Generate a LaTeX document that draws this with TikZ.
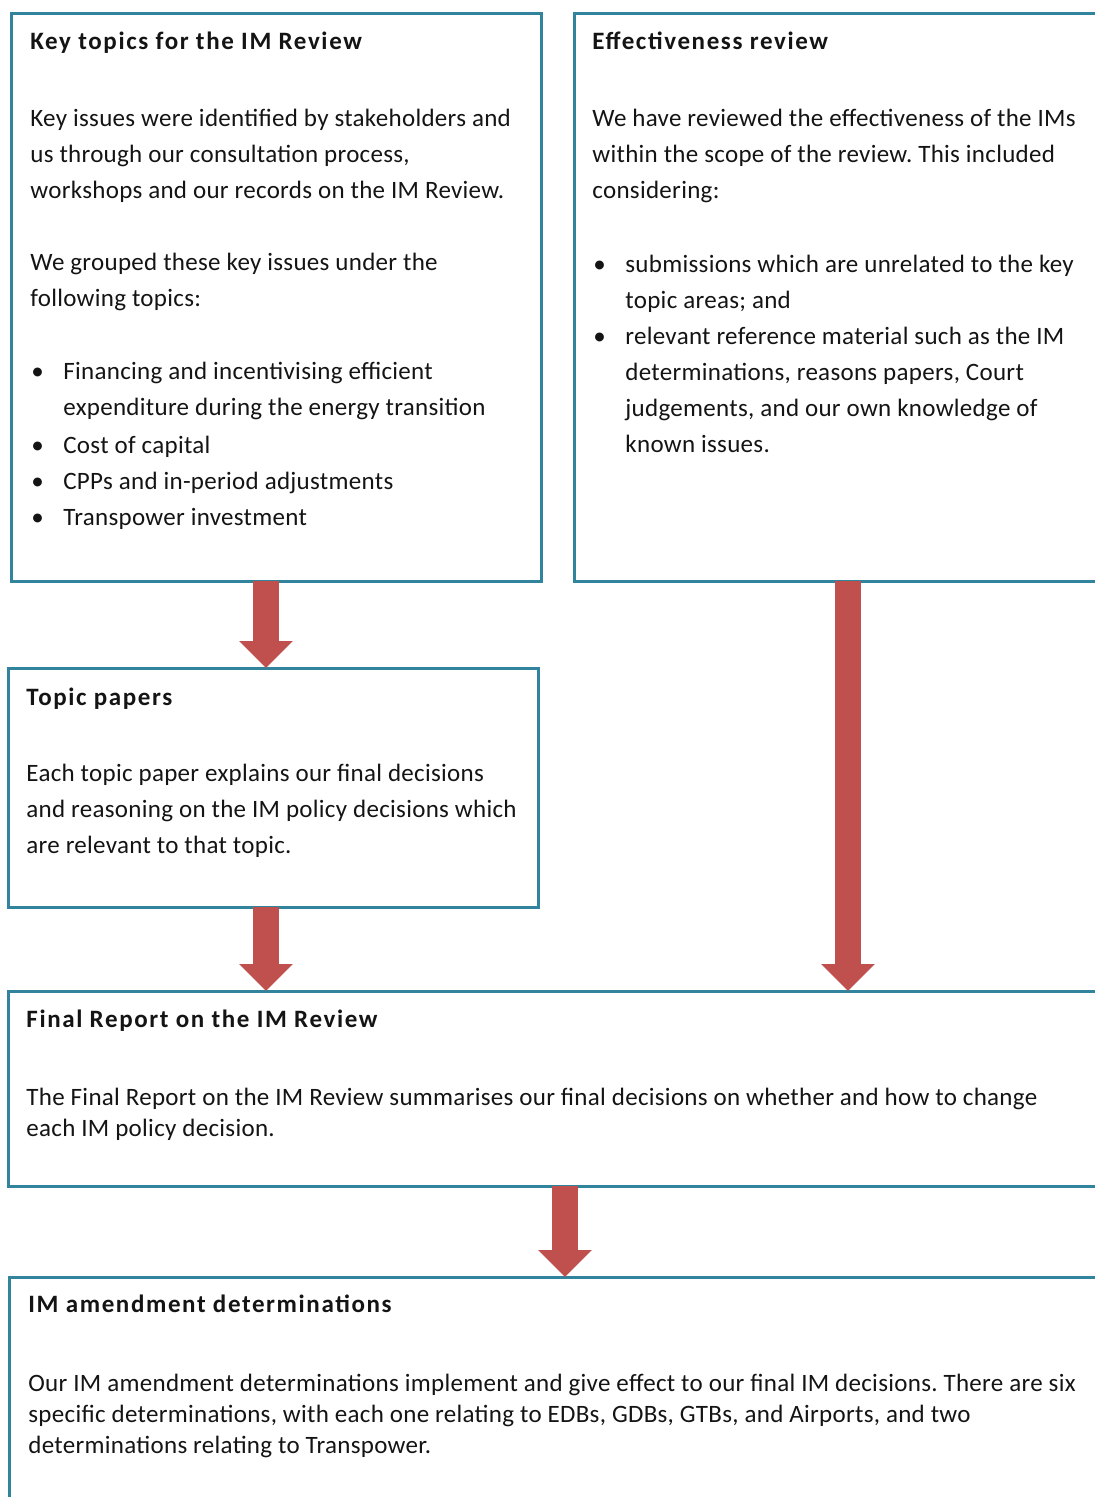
\documentclass[tikz,border=0pt]{standalone}
\usepackage{fontspec}
\setmainfont{Carlito}[LetterSpace=1.2, BoldFeatures={LetterSpace=6.5}]
\usepackage{tikz}
\usetikzlibrary{arrows.meta, positioning, calc}
\definecolor{borderteal}{RGB}{49,132,155}
\definecolor{arrowred}{RGB}{192,80,77}
\definecolor{bodytext}{RGB}{20,20,20}
\frenchspacing

\newcommand{\bulitem}{\hspace*{0.5pt}\makebox[16pt][l]{\textbullet}}
\newcommand{\bulcont}{\hspace*{16.5pt}}

\begin{document}
\begin{tikzpicture}[
    x=0.5pt, y=-0.5pt,
    panel/.style={rectangle, draw=borderteal, line width=1.5pt, outer sep=0pt,
        anchor=north west, fill=white},
    paneltext/.style={anchor=north west, align=left, inner sep=0pt, text=bodytext,
        font=\fontsize{12.5}{18}\selectfont},
    widetext/.style={paneltext, font=\fontsize{12.5}{15.5}\selectfont},
    fatarrow/.style={draw=arrowred, line width=13pt,
        -{Triangle[width=26pt, length=13.5pt]}}
]
\useasboundingbox (0,0) rectangle (1095,1497);
\clip (0,0) rectangle (1095,1497);

% === TOP ROW ===
\node[panel, minimum width=265pt, minimum height=283.5pt] (keytopics) at (11,14) {};
\node[panel, minimum width=274pt, minimum height=283.5pt] (effect) at (574,14) {};

% === TOPIC PAPERS ===
\node[panel, minimum width=265pt, minimum height=119.5pt] (topics) at (8,668) {};

% === FINAL REPORT ===
\node[panel, minimum width=557pt, minimum height=97.5pt] (final) at (8,991) {};

% === AMENDMENTS ===
\node[panel, minimum width=556pt, minimum height=122pt] (amend) at (9,1277) {};

% Texts
\node[paneltext] (keytopicstxt) at (30,32) {
    \textbf{Key topics for the IM Review}\\[20.5pt]
    Key issues were identified by stakeholders and\\
    us through our consultation process,\\
    workshops and our records on the IM Review.\\[18pt]
    We grouped these key issues under the\\
    following topics:\\[18.5pt]
    \bulitem Financing and incentivising efficient\\
    \bulcont expenditure during the energy transition\\[1pt]
    \bulitem Cost of capital\\
    \bulitem CPPs and in-period adjustments\\
    \bulitem Transpower investment
};

\node[paneltext] (effecttxt) at (592,32) {
    \textbf{Effectiveness review}\\[20.5pt]
    We have reviewed the effectiveness of the IMs\\
    within the scope of the review. This included\\
    considering:\\[19pt]
    \bulitem submissions which are unrelated to the key\\
    \bulcont topic areas; and\\
    \bulitem relevant reference material such as the IM\\
    \bulcont determinations, reasons papers, Court\\
    \bulcont judgements, and our own knowledge of\\
    \bulcont known issues.
};

\node[paneltext] (topicstxt) at (26,688) {
    \textbf{Topic papers}\\[20pt]
    Each topic paper explains our final decisions\\
    and reasoning on the IM policy decisions which\\
    are relevant to that topic.
};

\node[widetext] (finaltxt) at (26,1010) {
    \textbf{Final Report on the IM Review}\\[23.5pt]
    The Final Report on the IM Review summarises our final decisions on whether and how to change\\
    each IM policy decision.
};

\node[widetext] (amendtxt) at (28,1295) {
    \textbf{IM amendment determinations}\\[24pt]
    Our IM amendment determinations implement and give effect to our final IM decisions. There are six\\
    specific determinations, with each one relating to EDBs, GDBs, GTBs, and Airports, and two\\
    determinations relating to Transpower.
};

% Arrows
\draw[fatarrow] ([xshift=-5pt]keytopics.south) -- ([xshift=-5pt]keytopics.south |- topics.north);
\draw[fatarrow] (effect.south) -- (effect.south |- final.north);
\draw[fatarrow] ([xshift=-3.5pt]topics.south) -- ([xshift=-3.5pt]topics.south |- final.north);
\draw[fatarrow] (final.south) -- (final.south |- amend.north);

\end{tikzpicture}
\end{document}
